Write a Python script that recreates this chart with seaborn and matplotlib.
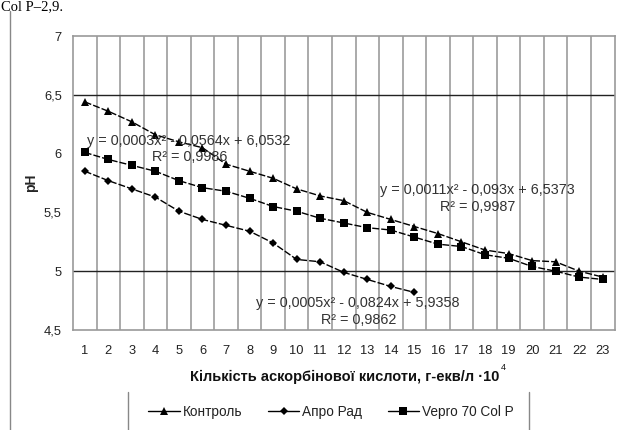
import numpy as np
import pandas as pd
import seaborn as sns
import matplotlib.pyplot as plt
from matplotlib.lines import Line2D

# Дані
x_control = list(range(1, 24))
ph_control = [6.44, 6.36, 6.27, 6.16, 6.10, 6.05, 5.91, 5.85, 5.79, 5.70, 5.64, 5.60,
              5.50, 5.44, 5.38, 5.32, 5.25, 5.18, 5.15, 5.09, 5.08, 5.00, 4.95]
x_apro = list(range(1, 16))
ph_apro = [5.85, 5.77, 5.70, 5.63, 5.51, 5.44, 5.39, 5.34, 5.24, 5.10, 5.08, 4.99,
           4.93, 4.87, 4.82]
x_vepro = list(range(1, 24))
ph_vepro = [6.01, 5.95, 5.90, 5.85, 5.77, 5.71, 5.68, 5.62, 5.55, 5.51, 5.45, 5.41,
            5.37, 5.35, 5.29, 5.23, 5.21, 5.14, 5.11, 5.04, 5.00, 4.95, 4.93]
series_names = ['Контроль', 'Апро Рад', 'Vepro 70 Col P']
y_ticks = [4.5, 5, 5.5, 6, 6.5, 7]
y_tick_labels = ['4,5', '5', '5,5', '6', '6,5', '7']

df = pd.concat([
    pd.DataFrame({'x': x_control, 'pH': ph_control, 'series': series_names[0]}),
    pd.DataFrame({'x': x_apro, 'pH': ph_apro, 'series': series_names[1]}),
    pd.DataFrame({'x': x_vepro, 'pH': ph_vepro, 'series': series_names[2]}),
])

sns.set_style('white')
plt.rcParams['font.family'] = ['Liberation Sans', 'DejaVu Sans']

fig = plt.figure(figsize=(6.24, 4.30), dpi=100)
ax = fig.add_axes([73 / 624, 1 - 330 / 430, 541.5 / 624, 294 / 430])

markers = {'Контроль': '^', 'Апро Рад': 'D', 'Vepro 70 Col P': 's'}
dashes = {k: (5, 1.5) for k in series_names}
sns.lineplot(data=df, x='x', y='pH', style='series', markers=markers, dashes=dashes,
             color='black', linewidth=1.0, markersize=6, markeredgewidth=0,
             legend=False, ax=ax)
# ромби меншого розміру
for ln in ax.lines:
    if ln.get_marker() == 'D':
        ln.set_markersize(4)

ax.set_xlim(0.5, 23.5)
ax.set_ylim(4.5, 7)
ax.set_xticks(x_control)
ax.set_xticklabels([str(v) for v in x_control])
ax.set_xticks(np.arange(0.5, 24, 1), minor=True)
ax.tick_params(axis='x', which='major', length=0, pad=11, labelsize=9.3, labelcolor='#222222')
ax.tick_params(axis='x', which='minor', length=5, width=1, color='#888888', direction='out')
ax.set_yticks(y_ticks)
ax.set_yticklabels(y_tick_labels)
ax.tick_params(axis='y', length=5, width=1, color='#888888', direction='out', pad=3,
               labelsize=9.3, labelcolor='#222222')

# сітка
for xv in np.arange(1.5, 23, 1):
    ax.axvline(xv, color='#aaaaaa', linewidth=1.4, zorder=0)
for yv in [5, 6.5]:
    ax.axhline(yv, color='#222222', linewidth=1.0, zorder=0)
for s in ax.spines.values():
    s.set_color('#999999')
    s.set_linewidth(1.2)

ax.set_xlabel('')
ax.set_ylabel('pH', fontsize=10, fontweight='bold', labelpad=4)

# рівняння трендів
eq_kw = dict(ha='center', va='center', fontsize=10.4, color='#333333')
ax.text(5.42, 6.107, 'y = 0,0003x² - 0,0564x + 6,0532', **eq_kw)
ax.text(5.46, 5.97, 'R² = 0,9986', **eq_kw)
ax.text(17.69, 5.69, 'y = 0,0011x² - 0,093x + 6,5373', **eq_kw)
ax.text(17.69, 5.546, 'R² = 0,9987', **eq_kw)
ax.text(12.59, 4.73, 'y = 0,0005x² - 0,0824x + 5,9358', **eq_kw)
ax.text(12.62, 4.585, 'R² = 0,9862', **eq_kw)

# підпис осі X з показником степеня
xl = fig.text(345 / 624, 1 - 377 / 430, 'Кількість аскорбінової кислоти, г-екв/л ·10',
              ha='center', va='center', fontsize=10.5, fontweight='bold', color='#111111')
fig.canvas.draw()
bb = xl.get_window_extent()
fig.text((bb.x1 + 1) / 624, (bb.y1 + 2) / 430, '4', fontsize=6.5, ha='left', va='center',
         color='#111111')

# легенда
handles = [Line2D([], [], color='black', linewidth=1.0, marker=markers[n],
                  markersize=6 if markers[n] != 'D' else 4, markeredgewidth=0)
           for n in series_names]
fig.legend(handles, series_names, loc='center', bbox_to_anchor=(331 / 624, 1 - 412 / 430),
           ncol=3, frameon=False, fontsize=9.8, handlelength=2.3, handletextpad=0.2,
           columnspacing=1.9, labelcolor='#222222')
for xp in [128, 529]:
    fig.add_artist(Line2D([xp / 624, xp / 624], [0, 1 - 392 / 430], color='#888888',
                          linewidth=1.0, transform=fig.transFigure))
# рамка області діаграми та текст документа зверху
fig.add_artist(Line2D([10 / 624, 10 / 624], [0, 1 - 11 / 430], color='#888888',
                      linewidth=1.0, transform=fig.transFigure))
fig.text(0.002, 1 - 10 / 430, 'Col P–2,9.', fontsize=10.5, family='Liberation Serif',
         ha='left', va='baseline', color='black')

fig.savefig('out.png', dpi=100)
